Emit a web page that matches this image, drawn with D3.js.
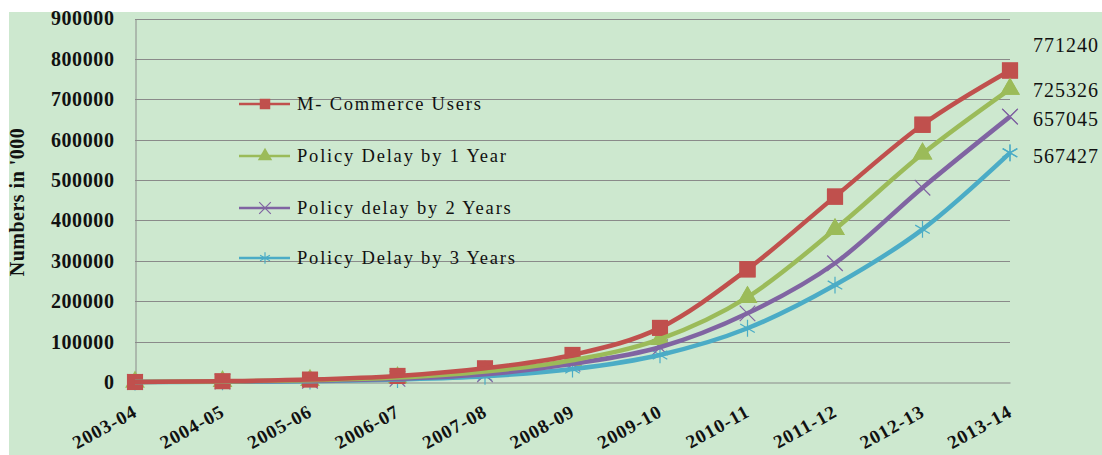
<!DOCTYPE html>
<html>
<head>
<meta charset="utf-8">
<script src="https://cdn.jsdelivr.net/npm/d3@7"></script>
<style>
  body { margin: 0; background: #fff; }
  svg text { font-family: "Liberation Serif", "Times New Roman", serif; }
</style>
</head>
<body>
<div id="chart"></div>
<script>
(function(){
    'use strict';

    var years = ["2003-04", "2004-05", "2005-06", "2006-07", "2007-08", "2008-09",
                 "2009-10", "2010-11", "2011-12", "2012-13", "2013-14"];
    var yTicks = [0, 100000, 200000, 300000, 400000, 500000, 600000, 700000, 800000, 900000];

    var mcommerceUsers = [0, 2000, 6000, 15000, 34000, 67000, 134000, 279000, 459000, 637000, 771240];
    var delay1Year     = [0, 1500, 4500, 11000, 26000, 54000, 106000, 210000, 378000, 565000, 725326];
    var delay2Years    = [0, 1000, 3000, 8000, 19000, 45000, 86000, 170000, 294000, 481000, 657045];
    var delay3Years    = [0, 500, 2000, 6000, 14000, 32000, 67000, 133000, 240000, 378000, 567427];

    var seriesNames = ["M- Commerce Users", "Policy Delay by 1 Year", "Policy delay by 2 Years", "Policy Delay by 3 Years"];
    var endLabels = ["771240", "725326", "657045", "567427"];

    var series = [
        {name: seriesNames[0], values: mcommerceUsers, color: "#C0504D", marker: "square", end: endLabels[0], endY: 45},
        {name: seriesNames[1], values: delay1Year, color: "#9BBB59", marker: "triangle", end: endLabels[1], endY: 90},
        {name: seriesNames[2], values: delay2Years, color: "#8064A2", marker: "cross", end: endLabels[2], endY: 119},
        {name: seriesNames[3], values: delay3Years, color: "#4BACC6", marker: "star", end: endLabels[3], endY: 156}
    ];

    var width = 1102, height = 455;
    var left = 135, right = 1010, top = 18.5, bottom = 382;

    var svg = d3.select("#chart").append("svg")
        .attr("width", width)
        .attr("height", height);

    svg.append("rect")
        .attr("x", 9).attr("y", 12)
        .attr("width", width - 9).attr("height", height - 12)
        .attr("fill", "#CDE8CF");

    var x = d3.scalePoint().domain(years).range([left, right]).padding(0);
    var y = d3.scaleLinear().domain([0, 900000]).range([bottom, top]);

    // gridlines
    svg.append("g").selectAll("line").data(yTicks.slice(1))
        .enter().append("line")
        .attr("x1", left).attr("x2", right)
        .attr("y1", function(d) { return Math.round(y(d)) + 0.5; })
        .attr("y2", function(d) { return Math.round(y(d)) + 0.5; })
        .attr("stroke", "#8a8a8a").attr("stroke-width", 1);

    // y axis
    var yAxis = svg.append("g")
        .attr("transform", "translate(" + (left + 0.5) + ",0)")
        .call(d3.axisLeft(y).tickValues(yTicks).tickSize(0).tickPadding(21).tickFormat(d3.format("d")));
    yAxis.select(".domain").attr("stroke", "#8a8a8a");
    yAxis.selectAll("text")
        .attr("font-size", 20).attr("font-weight", "bold").attr("fill", "#111")
        .attr("letter-spacing", 0.6)
        .style("font-family", "'Liberation Serif', serif");

    // x axis
    var xAxis = svg.append("g")
        .attr("transform", "translate(0," + (bottom + 0.5) + ")")
        .call(d3.axisBottom(x).tickSize(0).tickPadding(0));
    xAxis.select(".domain").attr("stroke", "#8a8a8a");
    xAxis.selectAll("text")
        .attr("font-size", 19).attr("font-weight", "bold").attr("fill", "#111")
        .attr("letter-spacing", 1)
        .style("font-family", "'Liberation Serif', serif")
        .attr("text-anchor", "end")
        .attr("dy", 0)
        .attr("transform", "translate(3,33) rotate(-29)");

    svg.append("text")
        .attr("transform", "translate(24,202) rotate(-90)")
        .attr("text-anchor", "middle")
        .attr("font-size", 20).attr("font-weight", "bold").attr("fill", "#111")
        .attr("letter-spacing", 0.5)
        .text("Numbers in '000");

    var line = d3.line()
        .x(function(d, i) { return x(years[i]); })
        .y(function(d) { return y(d); })
        .curve(d3.curveMonotoneX);

    var symbolFor = {
        square: d3.symbol().type(d3.symbolSquare).size(260),
        triangle: d3.symbol().type(d3.symbolTriangle).size(170),
        cross: d3.symbol().type(d3.symbolX).size(160),
        star: d3.symbol().type(d3.symbolAsterisk).size(200)
    };

    function drawMarker(g, s, cx, cy) {
        var p = g.append("path")
            .attr("d", symbolFor[s.marker]())
            .attr("transform", "translate(" + cx + "," + cy + ")");
        if (s.marker === "square" || s.marker === "triangle") {
            p.attr("fill", s.color).attr("stroke", "none");
        } else {
            p.attr("fill", "none").attr("stroke", s.color).attr("stroke-width", 1.2);
        }
    }

    // markers underneath, then lines, then the visible markers on top
    series.slice().reverse().forEach(function(s) {
        var g = svg.append("g");
        s.values.forEach(function(v, i) {
            drawMarker(g, s, x(years[i]), y(v));
        });
    });
    series.slice().reverse().forEach(function(s) {
        svg.append("path")
            .datum(s.values)
            .attr("d", line)
            .attr("fill", "none")
            .attr("stroke", s.color)
            .attr("stroke-width", 4.5)
            .attr("stroke-linejoin", "round");
    });
    series.forEach(function(s) {
        var g = svg.append("g");
        var last = s.values.length - 1;
        drawMarker(g, s, x(years[last]), y(s.values[last]));
        if (s.marker === "square" || s.marker === "triangle") {
            [7, 8, 9].forEach(function(i) { drawMarker(g, s, x(years[i]), y(s.values[i])); });
        }
    });

    // end value labels
    svg.append("g").selectAll("text").data(series)
        .enter().append("text")
        .attr("x", 1033)
        .attr("y", function(d) { return d.endY; })
        .attr("dy", "0.35em")
        .attr("font-size", 20).attr("fill", "#111")
        .attr("letter-spacing", 1)
        .text(function(d) { return d.end; });

    // legend
    var legend = svg.append("g");
    var legendY = [104, 156, 208, 258];
    var legendType = {square: d3.symbolSquare, triangle: d3.symbolTriangle, cross: d3.symbolX, star: d3.symbolAsterisk};
    series.forEach(function(s, i) {
        var ly = legendY[i];
        var solid = s.marker === "square" || s.marker === "triangle";
        legend.append("line")
            .attr("x1", 239).attr("x2", 290)
            .attr("y1", ly).attr("y2", ly)
            .attr("stroke", s.color).attr("stroke-width", 2.5);
        legend.append("path")
            .attr("d", d3.symbol().type(legendType[s.marker]).size(s.marker === "square" ? 110 : 90)())
            .attr("transform", "translate(265," + ly + ")")
            .attr("fill", solid ? s.color : "none")
            .attr("stroke", solid ? "none" : s.color)
            .attr("stroke-width", 1.2);
        legend.append("text")
            .attr("x", 297).attr("y", ly)
            .attr("dy", "0.35em")
            .attr("font-size", 18.5).attr("fill", "#111")
            .attr("letter-spacing", 1.8)
            .text(s.name);
    });
})()
</script>
</body>
</html>
